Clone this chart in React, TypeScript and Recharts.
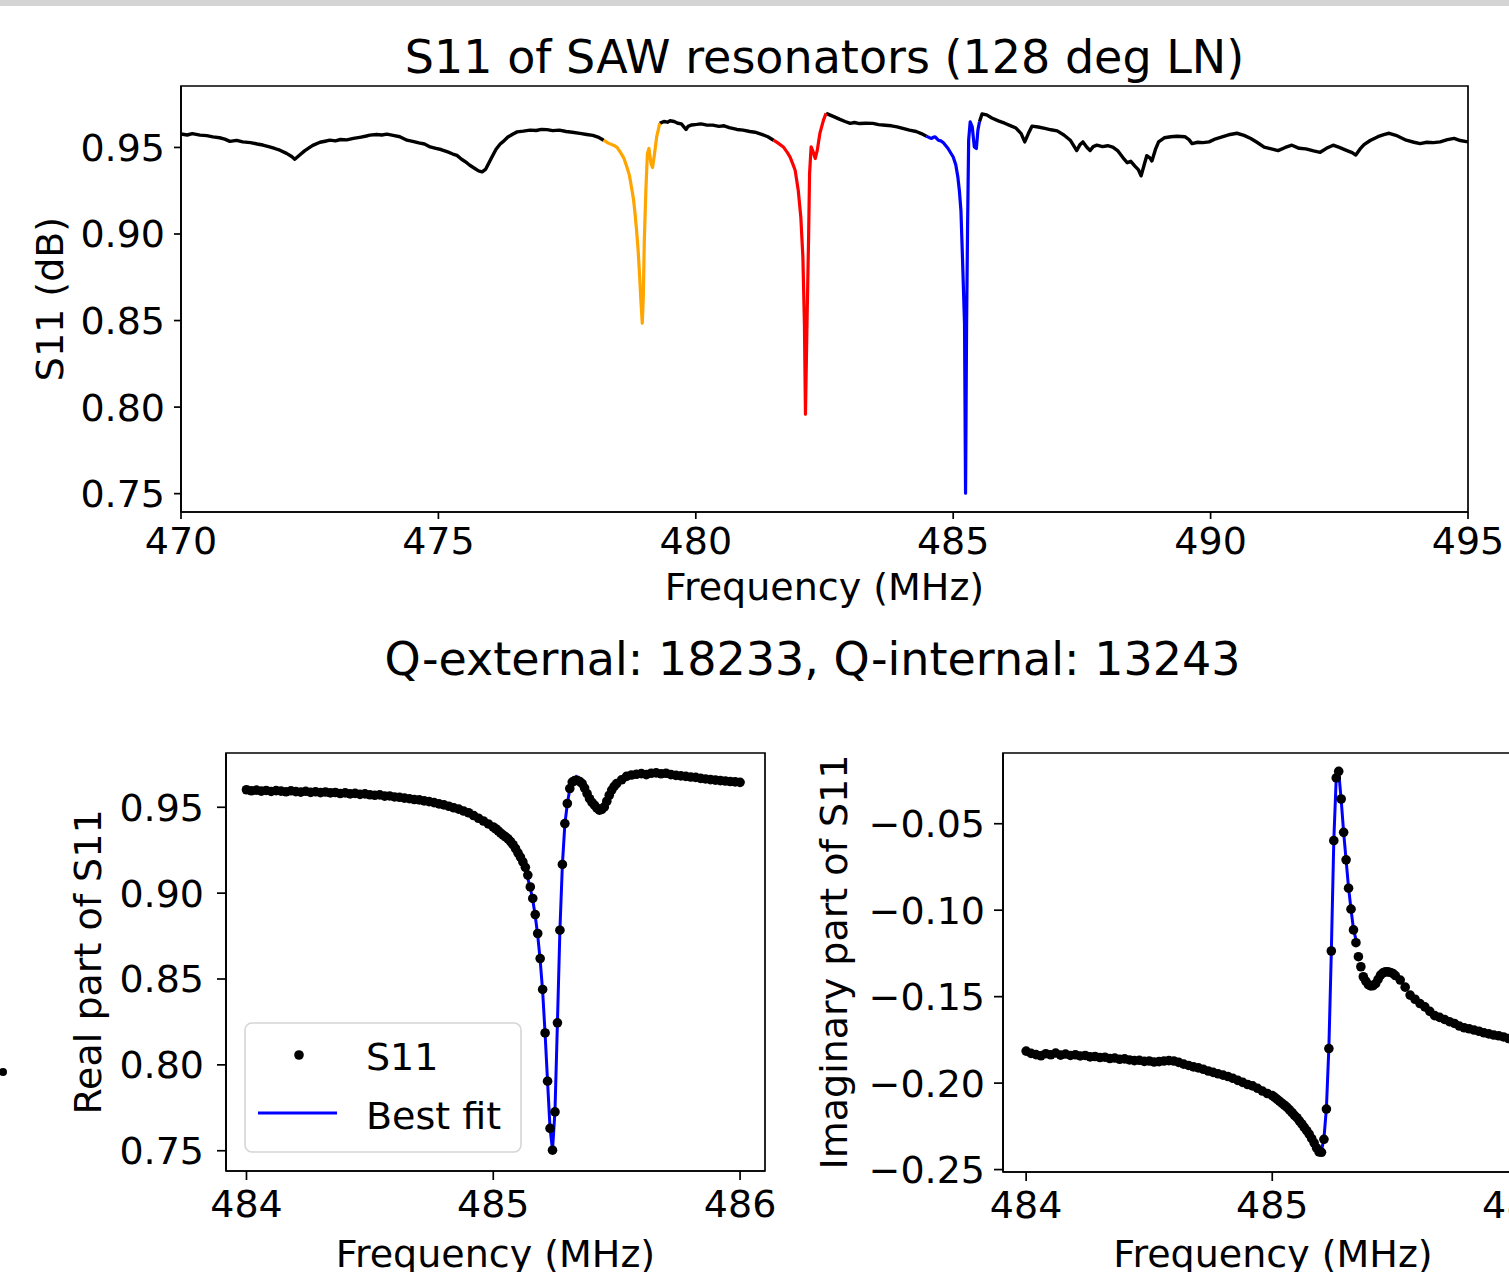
import React from 'react';
import { LineChart, ComposedChart, Line, Scatter, XAxis, YAxis, Legend, ReferenceArea } from 'recharts';

const FONT = '"DejaVu Sans", "Liberation Sans", sans-serif';

// ---------- Top chart: S11 of SAW resonators ----------
const topXDomain: [number, number] = [470, 495];
const topYDomain: [number, number] = [0.7394, 0.9855];
const topXTicks = [470, 475, 480, 485, 490, 495];
const topYTicks = [0.75, 0.8, 0.85, 0.9, 0.95];

const blackSeg1: [number, number][] = [
  [470.00, .9578], [470.12, .9572], [470.22, .9580], [470.37, .9571], [470.50, .9568], [470.62, .9561],
  [470.75, .9556], [470.85, .9548], [470.95, .9535], [471.08, .9541], [471.20, .9532], [471.35, .9528],
  [471.48, .9520], [471.59, .9514], [471.72, .9503], [471.82, .9494], [471.92, .9484], [472.05, .9466],
  [472.15, .9448], [472.21, .9432], [472.30, .9455], [472.40, .9480], [472.50, .9500], [472.56, .9512],
  [472.70, .9530], [472.80, .9536], [472.89, .9542], [473.00, .9538], [473.10, .9546], [473.22, .9544],
  [473.35, .9552], [473.50, .9560], [473.60, .9566], [473.67, .9571], [473.80, .9575], [473.90, .9572],
  [474.00, .9577], [474.12, .9570], [474.25, .9562], [474.39, .9542], [474.50, .9535], [474.62, .9526],
  [474.73, .9520], [474.84, .9503], [474.95, .9495], [475.05, .9488], [475.18, .9474], [475.28, .9462],
  [475.36, .9454], [475.45, .9432], [475.55, .9412], [475.61, .9397], [475.70, .9380], [475.78, .9365],
  [475.85, .9359], [475.92, .9375], [475.98, .9410], [476.04, .9445], [476.12, .9490], [476.20, .9520],
  [476.25, .9532], [476.35, .9560], [476.45, .9578], [476.53, .9590], [476.65, .9594], [476.78, .9600],
  [476.90, .9598], [477.00, .9604], [477.11, .9603], [477.22, .9597], [477.35, .9600], [477.48, .9592],
  [477.60, .9588], [477.75, .9581], [477.88, .9575], [478.00, .9570], [478.10, .9560], [478.21, .9542],
];
const orangeSeg: [number, number][] = [
  [478.21, .9542], [478.30, .9525], [478.40, .9513], [478.47, .9500], [478.53, .9474], [478.60, .9440],
  [478.66, .9388], [478.71, .9340], [478.75, .9272], [478.79, .9200], [478.82, .9117], [478.85, .9020],
  [478.88, .8905], [478.91, .8750], [478.93, .8634], [478.96, .8485], [478.98, .8634], [479.00, .8963],
  [479.03, .9252], [479.06, .9465], [479.09, .9494], [479.13, .9407], [479.16, .9384], [479.19, .9445],
  [479.24, .9561], [479.30, .9639],
];
const blackSeg2: [number, number][] = [
  [479.30, .9639], [479.38, .9650], [479.45, .9646], [479.50, .9654], [479.58, .9650], [479.65, .9640],
  [479.72, .9636], [479.78, .9615], [479.81, .9604], [479.85, .9622], [479.92, .9630], [480.02, .9633],
  [480.10, .9636], [480.20, .9630], [480.33, .9629], [480.45, .9622], [480.55, .9625], [480.65, .9615],
  [480.80, .9604], [480.92, .9600], [481.05, .9592], [481.15, .9588], [481.28, .9576], [481.40, .9562],
  [481.51, .9542],
];
const redSeg: [number, number][] = [
  [481.51, .9542], [481.60, .9525], [481.70, .9503], [481.78, .9470], [481.83, .9445], [481.88, .9408],
  [481.93, .9368], [481.99, .9252], [482.04, .9098], [482.08, .8866], [482.11, .8480], [482.13, .7959],
  [482.16, .8480], [482.19, .8963], [482.21, .9349], [482.24, .9503], [482.28, .9474], [482.32, .9436],
  [482.36, .9484], [482.41, .9581], [482.48, .9658], [482.53, .9697],
];
const blackSeg3: [number, number][] = [
  [482.53, .9697], [482.60, .9688], [482.68, .9678], [482.80, .9662], [482.90, .9650], [483.00, .9639],
  [483.08, .9644], [483.18, .9638], [483.30, .9640], [483.44, .9639], [483.55, .9632], [483.68, .9628],
  [483.80, .9625], [483.91, .9619], [484.02, .9610], [484.15, .9600], [484.28, .9592], [484.38, .9580],
  [484.48, .9565],
];
const blueSeg: [number, number][] = [
  [484.48, .9565], [484.53, .9558], [484.58, .9552], [484.62, .9560], [484.65, .9561], [484.71, .9542],
  [484.76, .9538], [484.81, .9527], [484.90, .9494], [485.00, .9445], [485.05, .9400], [485.09, .9330],
  [485.12, .9250], [485.15, .9137], [485.18, .8866], [485.22, .8480], [485.24, .7503], [485.26, .8480],
  [485.28, .9060], [485.30, .9542], [485.33, .9648], [485.37, .9619], [485.41, .9503], [485.45, .9494],
  [485.48, .9600], [485.51, .9648],
];
const blackSeg4: [number, number][] = [
  [485.51, .9648], [485.56, .9693], [485.65, .9688], [485.75, .9670], [485.89, .9652], [486.00, .9640],
  [486.12, .9625], [486.22, .9612], [486.32, .9580], [486.39, .9532], [486.46, .9580], [486.53, .9623],
  [486.65, .9618], [486.78, .9610], [486.90, .9602], [487.02, .9596], [487.15, .9572], [487.28, .9540],
  [487.40, .9482], [487.46, .9515], [487.52, .9532], [487.60, .9500], [487.66, .9482], [487.72, .9505],
  [487.79, .9513], [487.90, .9505], [488.00, .9510], [488.10, .9502], [488.20, .9480], [488.30, .9440],
  [488.38, .9412], [488.45, .9420], [488.53, .9392], [488.60, .9370], [488.65, .9336], [488.71, .9400],
  [488.76, .9452], [488.82, .9440], [488.86, .9422], [488.93, .9490], [488.99, .9532], [489.10, .9556],
  [489.23, .9562], [489.35, .9565], [489.50, .9562], [489.58, .9545], [489.64, .9522], [489.75, .9530],
  [489.85, .9528], [489.97, .9532], [490.10, .9550], [490.24, .9562], [490.38, .9575], [490.51, .9582],
  [490.65, .9570], [490.78, .9552], [490.90, .9530], [491.04, .9502], [491.18, .9492], [491.31, .9482],
  [491.45, .9500], [491.58, .9513], [491.72, .9495], [491.85, .9492], [492.00, .9480], [492.13, .9472],
  [492.25, .9495], [492.38, .9513], [492.50, .9500], [492.65, .9482], [492.75, .9470], [492.82, .9456],
  [492.90, .9490], [492.98, .9516], [493.10, .9540], [493.25, .9562], [493.38, .9575], [493.47, .9582],
  [493.60, .9570], [493.80, .9542], [493.95, .9530], [494.07, .9522], [494.20, .9530], [494.33, .9528],
  [494.46, .9532], [494.60, .9545], [494.73, .9552], [494.85, .9540], [495.00, .9532],
];

// ---------- Bottom charts: measured S11 (real / imaginary) and best fit ----------
const realXDomain: [number, number] = [483.917, 486.101];
const imagXDomain: [number, number] = [483.906, 486.1];
const realYDomain: [number, number] = [0.7382, 0.9816];
const imagYDomain: [number, number] = [-0.2514, -0.0091];
const bottomXTicks = [484, 485, 486];
const realYTicks = [0.75, 0.8, 0.85, 0.9, 0.95];
const imagYTicks = [-0.25, -0.2, -0.15, -0.1, -0.05];

const dotFreq = [
  484.00, 484.02, 484.04, 484.06, 484.08, 484.10, 484.12, 484.14, 484.16, 484.18,
  484.20, 484.22, 484.24, 484.26, 484.28, 484.30, 484.32, 484.34, 484.36, 484.38,
  484.40, 484.42, 484.44, 484.46, 484.48, 484.50, 484.52, 484.54, 484.56, 484.58,
  484.60, 484.62, 484.64, 484.66, 484.68, 484.70, 484.72, 484.74, 484.76, 484.78,
  484.80, 484.82, 484.84, 484.86, 484.88, 484.90, 484.92, 484.94, 484.96, 484.98,
  485.00, 485.01, 485.02, 485.03, 485.04, 485.05, 485.06, 485.07, 485.08, 485.09,
  485.10, 485.11, 485.12, 485.13, 485.14, 485.15, 485.16, 485.17, 485.18, 485.19,
  485.20, 485.21, 485.22, 485.23, 485.24, 485.25, 485.26, 485.27, 485.28, 485.29,
  485.30, 485.31, 485.32, 485.33, 485.34, 485.35, 485.36, 485.37, 485.38, 485.39,
  485.40, 485.41, 485.42, 485.43, 485.44, 485.45, 485.46, 485.47, 485.48, 485.49,
  485.50,
  485.52, 485.54, 485.56, 485.58, 485.60, 485.62, 485.64, 485.66, 485.68, 485.70,
  485.72, 485.74, 485.76, 485.78, 485.80, 485.82, 485.84, 485.86, 485.88, 485.90,
  485.92, 485.94, 485.96, 485.98, 486.00,
];
const realS11 = [
  .9602, .9596, .9600, .9594, .9598, .9592, .9597, .9594, .9590, .9596,
  .9591, .9588, .9593, .9587, .9590, .9585, .9589, .9584, .9586, .9580,
  .9584, .9578, .9581, .9575, .9578, .9573, .9570, .9572, .9565, .9566,
  .9560, .9558, .9553, .9550, .9545, .9543, .9537, .9533, .9527, .9520,
  .9514, .9506, .9497, .9489, .9478, .9468, .9452, .9436, .9420, .9403,
  .9385, .9375, .9363, .9350, .9338, .9328, .9316, .9300, .9282, .9260,
  .9235, .9210, .9182, .9150, .9105, .9036, .8969, .8875, .8765, .8619,
  .8439, .8186, .7905, .7630, .7503, .7726, .8245, .8784, .9167, .9405,
  .9522, .9609, .9647, .9655, .9657, .9650, .9638, .9612, .9580, .9550,
  .9528, .9512, .9495, .9483, .9488, .9502, .9535, .9570, .9600, .9622,
  .9638,
  .9660, .9680, .9688, .9692, .9696, .9690, .9698, .9700, .9695, .9698,
  .9690, .9686, .9683, .9680, .9676, .9674, .9668, .9665, .9661, .9658,
  .9655, .9653, .9650, .9648, .9645,
];
const imagS11 = [
  -.1815, -.1828, -.1835, -.1842, -.1830, -.1836, -.1826, -.1838, -.1832, -.1840,
  -.1836, -.1843, -.1840, -.1848, -.1846, -.1852, -.1850, -.1858, -.1855, -.1862,
  -.1860, -.1866, -.1870, -.1868, -.1874, -.1872, -.1878, -.1876, -.1872, -.1870,
  -.1872, -.1880, -.1890, -.1898, -.1906, -.1912, -.1920, -.1930, -.1938, -.1946,
  -.1954, -.1962, -.1972, -.1984, -.1996, -.2008, -.2016, -.2030, -.2046, -.2060,
  -.2072, -.2082, -.2094, -.2105, -.2117, -.2128, -.2140, -.2155, -.2170, -.2186,
  -.2200, -.2218, -.2236, -.2256, -.2275, -.2295, -.2320, -.2345, -.2375, -.2398,
  -.2400, -.2325, -.2150, -.1800, -.1236, -.0598, -.0235, -.0197, -.0357, -.0550,
  -.0709, -.0873, -.0994, -.1114, -.1188, -.1269, -.1327, -.1385, -.1410, -.1430,
  -.1438, -.1436, -.1425, -.1400, -.1375, -.1362, -.1356, -.1357, -.1360, -.1366,
  -.1378,
  -.1404, -.1445, -.1491, -.1515, -.1540, -.1559, -.1585, -.1610, -.1620, -.1632,
  -.1645, -.1655, -.1670, -.1680, -.1686, -.1693, -.1700, -.1709, -.1715, -.1722,
  -.1726, -.1733, -.1742, -.1746, -.1750,
];
const fitFreq = [
  485.00, 485.01, 485.02, 485.03, 485.04, 485.05, 485.06, 485.07, 485.08, 485.09,
  485.10, 485.11, 485.12, 485.13, 485.14, 485.15, 485.16, 485.17, 485.18, 485.19,
  485.20, 485.21, 485.22, 485.23, 485.24, 485.25, 485.26, 485.27, 485.28, 485.29,
  485.30, 485.31, 485.32, 485.33, 485.34,
];
const fitReal = [
  .9390, .9378, .9366, .9353, .9340, .9327, .9312, .9296, .9278, .9257,
  .9233, .9205, .9172, .9133, .9085, .9030, .8960, .8868, .8755, .8610,
  .8430, .8180, .7900, .7630, .7505, .7730, .8250, .8785, .9165, .9400,
  .9520, .9605, .9648, .9668, .9685,
];
const fitImag = [
  -.2072, -.2083, -.2094, -.2106, -.2118, -.2130, -.2143, -.2157, -.2172, -.2188,
  -.2205, -.2223, -.2243, -.2264, -.2287, -.2312, -.2338, -.2363, -.2385, -.2398,
  -.2390, -.2320, -.2145, -.1795, -.1240, -.0600, -.0230, -.0200, -.0360, -.0550,
  -.0710, -.0870, -.0995, -.1110, -.1170,
];

// ---------- helpers ----------
const toPoints = (seg: [number, number][]) => seg.map(([f, v]) => ({ f, v }));
const zip = (fs: number[], vs: number[]) => fs.map((f, i) => ({ f, v: vs[i] }));
const fmt2 = (v: number) => (v < 0 ? '\u2212' : '') + Math.abs(v).toFixed(2);

const AX = { stroke: '#000', strokeWidth: 1.7 };
const tickStyle = (size: number) => ({ fill: '#000', fontSize: size, fontFamily: FONT });

const topSeries = [
  { id: 'k1', data: blackSeg1, color: '#000000', w: 3.4 },
  { id: 'k2', data: blackSeg2, color: '#000000', w: 3.4 },
  { id: 'k3', data: blackSeg3, color: '#000000', w: 3.4 },
  { id: 'k4', data: blackSeg4, color: '#000000', w: 3.4 },
  { id: 'o', data: orangeSeg, color: '#ffa500', w: 3.2 },
  { id: 'r', data: redSeg, color: '#ff0000', w: 3.2 },
  { id: 'b', data: blueSeg, color: '#0000ff', w: 3.2 },
];

const Dot = (p: any) => <circle cx={p.cx} cy={p.cy} r={4.8} fill="#000" />;

const LegendBox = () => (
  <svg width={278} height={131} style={{ display: 'block' }}>
    <rect x={1} y={1} width={276} height={129} rx={7} ry={7} fill="#ffffff" fillOpacity={0.8} stroke="#d5d5d5" strokeWidth={1.6} />
    <circle cx={55} cy={33} r={4.8} fill="#000" />
    <text x={122} y={48} fontSize={38} fontFamily={FONT} fill="#000">S11</text>
    <line x1={14} x2={93} y1={91} y2={91} stroke="#0000ff" strokeWidth={3} />
    <text x={122} y={107} fontSize={38} fontFamily={FONT} fill="#000">Best fit</text>
  </svg>
);

const Frame = ({ x, y }: { x: [number, number]; y: [number, number] }) => (
  <ReferenceArea x1={x[0]} x2={x[1]} y1={y[0]} y2={y[1]} fill="none" fillOpacity={0}
    stroke="#000" strokeWidth={1.7} ifOverflow="visible" />
);

function TopChart() {
  return (
    <LineChart width={1509} height={620} margin={{ top: 86, right: 41, bottom: 0, left: 0 }}>
      <XAxis type="number" dataKey="f" domain={topXDomain} allowDataOverflow ticks={topXTicks} interval={0}
        tick={tickStyle(38)} tickSize={7} tickMargin={8} tickLine={AX} axisLine={AX} height={108} />
      <YAxis type="number" domain={topYDomain} allowDataOverflow ticks={topYTicks} interval={0}
        tickFormatter={fmt2} tick={tickStyle(38)} tickSize={7} tickMargin={9} tickLine={AX} axisLine={AX} width={181} />
      {topSeries.map((s) => (
        <Line key={s.id} data={toPoints(s.data)} dataKey="v" stroke={s.color} strokeWidth={s.w}
          dot={false} activeDot={false} isAnimationActive={false} strokeLinejoin="round" />
      ))}
      {Frame({ x: topXDomain, y: topYDomain })}
    </LineChart>
  );
}

function RealChart() {
  return (
    <ComposedChart width={800} height={572} margin={{ top: 53, right: 35, bottom: 0, left: 0 }}>
      <XAxis type="number" dataKey="f" domain={realXDomain} allowDataOverflow ticks={bottomXTicks} interval={0}
        tick={tickStyle(38)} tickSize={9} tickMargin={10} tickLine={AX} axisLine={AX} height={101} />
      <YAxis type="number" dataKey="v" domain={realYDomain} allowDataOverflow ticks={realYTicks} interval={0}
        tickFormatter={fmt2} tick={tickStyle(38)} tickSize={9} tickMargin={13} tickLine={AX} axisLine={AX} width={226} />
      <Scatter name="S11" data={zip(dotFreq, realS11)} fill="#000" shape={Dot} isAnimationActive={false} />
      <Line name="Best fit" data={zip(fitFreq, fitReal)} dataKey="v" stroke="#0000ff" strokeWidth={3}
        dot={false} activeDot={false} isAnimationActive={false} />
      {Frame({ x: realXDomain, y: realYDomain })}
      <Legend layout="vertical" align="center" verticalAlign="middle" content={() => <LegendBox />}
        wrapperStyle={{ position: 'absolute', left: 244, top: 322, width: 278, height: 131 }} />
    </ComposedChart>
  );
}

function ImagChart() {
  return (
    <ComposedChart width={800} height={572} margin={{ top: 53, right: 37, bottom: 0, left: 0 }}>
      <XAxis type="number" dataKey="f" domain={imagXDomain} allowDataOverflow ticks={bottomXTicks} interval={0}
        tick={tickStyle(38)} tickSize={9} tickMargin={10} tickLine={AX} axisLine={AX} height={100} />
      <YAxis type="number" dataKey="v" domain={imagYDomain} allowDataOverflow ticks={imagYTicks} interval={0}
        tickFormatter={fmt2} tick={tickStyle(38)} tickSize={9} tickMargin={9} tickLine={AX} axisLine={AX} width={223} />
      <Scatter name="S11" data={zip(dotFreq, imagS11)} fill="#000" shape={Dot} isAnimationActive={false} />
      <Line name="Best fit" data={zip(fitFreq, fitImag)} dataKey="v" stroke="#0000ff" strokeWidth={3}
        dot={false} activeDot={false} isAnimationActive={false} />
      {Frame({ x: imagXDomain, y: imagYDomain })}
    </ComposedChart>
  );
}

const txt = { fontFamily: FONT, fill: '#000' } as const;

export default function App() {
  return (
    <div style={{ position: 'absolute', left: 0, top: 0, width: 1509, height: 1272, overflow: 'hidden', background: '#fff' }}>
      <div style={{ position: 'absolute', left: 0, top: 0, width: 1509, height: 6, background: '#d4d4d4' }} />
      <div style={{ position: 'absolute', left: 0, top: 0 }}>
        <TopChart />
      </div>
      <div style={{ position: 'absolute', left: 0, top: 700 }}>
        <RealChart />
      </div>
      <div style={{ position: 'absolute', left: 780, top: 700 }}>
        <ImagChart />
      </div>
      <div style={{ position: 'absolute', left: -1, top: 1068, width: 8, height: 8, borderRadius: 4, background: '#000' }} />
      <svg width={1509} height={1272} style={{ position: 'absolute', left: 0, top: 0, pointerEvents: 'none' }}>
        <text x={824.5} y={73} fontSize={46} textAnchor="middle" {...txt}>S11 of SAW resonators (128 deg LN)</text>
        <text x={824.5} y={600} fontSize={38} textAnchor="middle" {...txt}>Frequency (MHz)</text>
        <text transform="translate(63 299) rotate(-90)" fontSize={38} textAnchor="middle" {...txt}>S11 (dB)</text>
        <text x={812.5} y={675} fontSize={46} textAnchor="middle" {...txt}>Q-external: 18233, Q-internal: 13243</text>
        <text transform="translate(101 962) rotate(-90)" fontSize={38} textAnchor="middle" {...txt}>Real part of S11</text>
        <text x={495.5} y={1267} fontSize={38} textAnchor="middle" {...txt}>Frequency (MHz)</text>
        <text transform="translate(847 962) rotate(-90)" fontSize={38} textAnchor="middle" {...txt}>Imaginary part of S11</text>
        <text x={1273} y={1267} fontSize={38} textAnchor="middle" {...txt}>Frequency (MHz)</text>
      </svg>
    </div>
  );
}
